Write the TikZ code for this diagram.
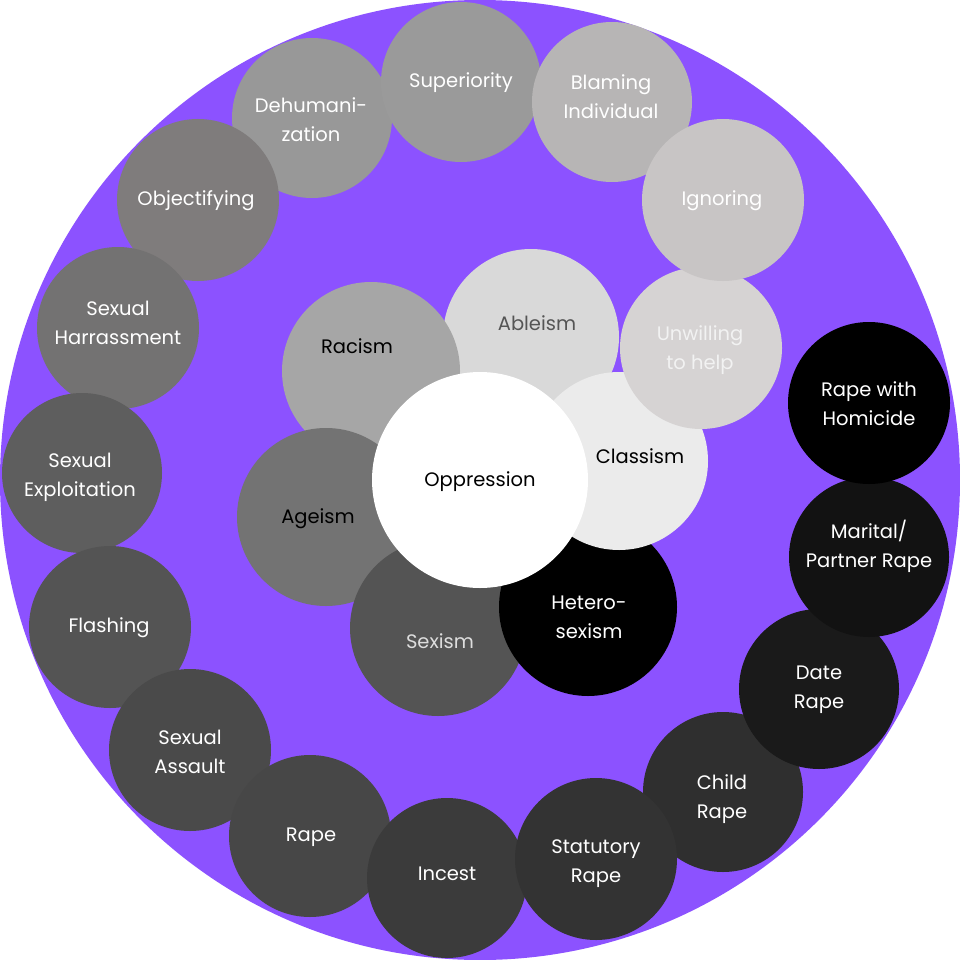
\documentclass[tikz,border=0pt]{standalone}
\usepackage{fontspec}
\setmainfont{Poppins}
\usepackage{tikz}
\definecolor{spiral purple}{HTML}{8C52FF}
\definecolor{ableism grey}{HTML}{D9D9D9}
\definecolor{ableism ink}{HTML}{555555}
\definecolor{racism grey}{HTML}{A6A6A6}
\definecolor{ageism grey}{HTML}{737373}
\definecolor{sexism grey}{HTML}{545454}
\definecolor{sexism ink}{HTML}{DDDDDD}
\definecolor{classism grey}{HTML}{EBEBEB}
\definecolor{dehuman grey}{HTML}{989898}
\definecolor{superior grey}{HTML}{9A9A9A}
\definecolor{blaming grey}{HTML}{B7B5B5}
\definecolor{unwilling grey}{HTML}{D6D3D3}
\definecolor{unwilling ink}{HTML}{F2F2F2}
\definecolor{ignoring grey}{HTML}{C8C5C5}
\definecolor{objectify grey}{HTML}{7F7C7C}
\definecolor{harass grey}{HTML}{737272}
\definecolor{exploit grey}{HTML}{5E5E5E}
\definecolor{flashing grey}{HTML}{545454}
\definecolor{assault grey}{HTML}{4A4A4A}
\definecolor{rape grey}{HTML}{474747}
\definecolor{incest grey}{HTML}{3B3B3B}
\definecolor{child grey}{HTML}{2F2F2F}
\definecolor{statutory grey}{HTML}{333333}
\definecolor{date grey}{HTML}{1A1A1A}
\definecolor{marital grey}{HTML}{121212}

\begin{document}
\begin{tikzpicture}[x=1pt, y=-1pt,
    lbl/.style={align=center, inner sep=0pt, text=white,
      font=\fontsize{19.5}{29}\selectfont}]
	\useasboundingbox (0,0) rectangle (960,960);
	\fill[white] (0,0) rectangle (960,960);
	\fill[spiral purple] (480,480) circle[radius=480pt];
	% inner ring
	\fill[ableism grey] (531,337) circle[radius=88pt];
	\node[lbl, text=ableism ink] (ableism) at (537,323) {Ableism};
	\fill[racism grey] (371,371) circle[radius=89pt];
	\node[lbl, text=black] (racism) at (357,346) {Racism};
	\fill[ageism grey] (326,517) circle[radius=89pt];
	\node[lbl, text=black] (ageism) at (318,519) {Ageism};
	\fill[sexism grey] (438,628) circle[radius=88pt];
	\node[lbl, text=sexism ink] (sexism) at (440,641) {Sexism};
	\fill[black] (588,607) circle[radius=89pt];
	\node[lbl] (hetero) at (589,617) {Hetero-\\sexism};
	\fill[classism grey] (619,461) circle[radius=89pt];
	\node[lbl, text=black] (classism) at (640,456) {Classism};
	\fill[white] (480,480) circle[radius=108pt];
	\node[lbl, text=black] (oppression) at (480,482) {Oppression};
	% outer spiral, top
	\fill[dehuman grey] (312,118) circle[radius=80pt];
	\node[lbl] (dehuman) at (311,120) {Dehumani-\\zation};
	\fill[superior grey] (461,82) circle[radius=80pt];
	\node[lbl] (superior) at (461,83) {Superiority};
	\fill[blaming grey] (612,102) circle[radius=80pt];
	\node[lbl] (blaming) at (611,97) {Blaming\\Individual};
	\fill[unwilling grey] (701,348) circle[radius=81pt];
	\node[lbl, text=unwilling ink] (unwilling) at (700,350) {Unwilling\\to help};
	\fill[ignoring grey] (723,200) circle[radius=81pt];
	\node[lbl] (ignoring) at (722,201) {Ignoring};
	% outer spiral, left and bottom
	\fill[objectify grey] (198,200) circle[radius=81pt];
	\node[lbl] (objectify) at (196,201) {Objectifying};
	\fill[harass grey] (118,328) circle[radius=81pt];
	\node[lbl] (harass) at (118,323) {Sexual\\Harrassment};
	\fill[exploit grey] (82,473) circle[radius=80pt];
	\node[lbl] (exploit) at (80,477) {Sexual\\Exploitation};
	\fill[flashing grey] (110,627) circle[radius=81pt];
	\node[lbl] (flashing) at (109,628) {Flashing};
	\fill[assault grey] (190,750) circle[radius=81pt];
	\node[lbl] (assault) at (190,752) {Sexual\\Assault};
	\fill[rape grey] (310,836) circle[radius=81pt];
	\node[lbl] (rape) at (311,837) {Rape};
	\fill[incest grey] (447,878) circle[radius=80pt];
	\node[lbl] (incest) at (447,874) {Incest};
	% outer spiral, right
	\fill[child grey] (723,792) circle[radius=80pt];
	\node[lbl] (child) at (722,799) {Child\\Rape};
	\fill[statutory grey] (596,859) circle[radius=81pt];
	\node[lbl] (statutory) at (596,864) {Statutory\\Rape};
	\fill[date grey] (819,689) circle[radius=80pt];
	\node[lbl] (date) at (819,690) {Date\\Rape};
	\fill[marital grey] (869,557) circle[radius=80pt];
	\node[lbl] (marital) at (869,546) {Marital/\\Partner Rape};
	\fill[black] (869,403) circle[radius=81pt];
	\node[lbl] (homicide) at (869,404) {Rape with\\Homicide};
\end{tikzpicture}
\end{document}
